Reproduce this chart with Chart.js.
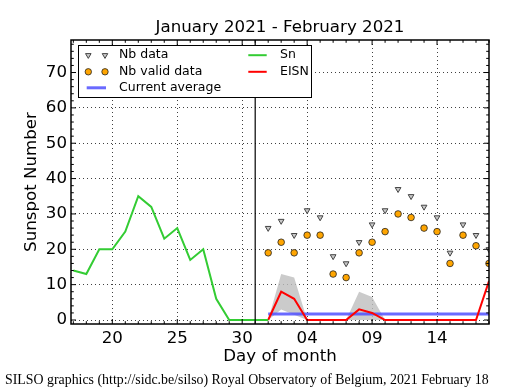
<!DOCTYPE html>
<html><head><meta charset="utf-8">
<script src="https://cdn.jsdelivr.net/npm/chart.js@4.4.0/dist/chart.umd.min.js"></script>
<style>html,body{margin:0;padding:0;background:#fff;}#wrap{width:515px;height:390px;position:relative;}</style>
</head><body><div id="wrap"><canvas id="c" width="515" height="390"></canvas></div>
<script>
// ---- data ----
const titleText = 'January 2021 - February 2021';
const footerText = 'SILSO graphics (http://sidc.be/silso) Royal Observatory of Belgium, 2021 February 18';
const xAxisTitle = 'Day of month';
const yAxisTitle = 'Sunspot Number';
const xTickValues = [20, 25, 30, 35, 40, 45];
const xTickLabels = ['20', '25', '30', '04', '09', '14'];
const yTickValues = [0, 10, 20, 30, 40, 50, 60, 70];
const snStartDay = 17;           // Jan 17
const snValues = [14, 13, 20, 20, 25, 35, 32, 23, 26, 17, 20, 6, 0, 0, 0, 0];
const febStartDay = 32;          // Feb 1
const nbData  = [26, 28, 24, 31, 29, 18, 16, 22, 27, 31, 37, 35, 32, 29, 19, 27, 24, 20];
const nbValid = [19, 22, 19, 24, 24, 13, 12, 19, 22, 25, 30, 29, 26, 25, 16, 24, 21, 16];
const eisn      = [0, 8, 6, 0, 0, 0, 0, 3, 2, 0, 0, 0, 0, 0, 0, 0, 0, 11];
const eisnUpper = [0, 13, 12, 0, 0, 0, 0, 8, 6.5, 0, 0, 0, 0, 0, 0, 0, 0, 11];
const eisnLower = [0, 3, 1.5, 0, 0, 0, 0, 0, 0, 0, 0, 0, 0, 0, 0, 0, 0, 11];
const currentAverage = 1.7;
const averageDays = [32, 49];
const monthBoundaryDay = 31;
const xMin = 16.82, xMax = 49.0, yMin = -1.13, yMax = 79.2;

const seq = (start, arr) => arr.map((v, i) => ({x: start + i, y: v}));
const FONT = '"DejaVu Sans", sans-serif';

const decor = {
  id: 'decor',
  afterDraw(chart) {
    const {ctx, chartArea: a, scales: {x, y}} = chart;
    ctx.save();
    // month boundary
    ctx.strokeStyle = '#000'; ctx.lineWidth = 1.2;
    const bx = x.getPixelForValue(monthBoundaryDay);
    ctx.beginPath(); ctx.moveTo(bx, a.top); ctx.lineTo(bx, a.bottom); ctx.stroke();
    // ticks inward on 4 sides
    ctx.lineWidth = 1;
    ctx.beginPath();
    for (let d = Math.ceil(xMin); d <= xMax; d++) {
      const px = x.getPixelForValue(d);
      const len = xTickValues.includes(d) ? 5 : 2.8;
      ctx.moveTo(px, a.bottom); ctx.lineTo(px, a.bottom - len);
      ctx.moveTo(px, a.top); ctx.lineTo(px, a.top + len);
    }
    for (let v = 0; v <= yMax; v += 2) {
      const py = y.getPixelForValue(v);
      const len = yTickValues.includes(v) ? 5 : 2.8;
      ctx.moveTo(a.left, py); ctx.lineTo(a.left + len, py);
      ctx.moveTo(a.right, py); ctx.lineTo(a.right - len, py);
    }
    ctx.stroke();
    // frame
    ctx.lineWidth = 1.5;
    ctx.strokeRect(a.left, a.top, a.right - a.left, a.bottom - a.top);

    // legend
    const ds = chart.data.datasets;
    const lx = 78.5, ly = 45.5, lw = 233, lh = 52;
    ctx.fillStyle = '#fff'; ctx.fillRect(lx, ly, lw, lh);
    ctx.strokeStyle = '#000'; ctx.lineWidth = 1; ctx.strokeRect(lx, ly, lw, lh);
    const rows = [55.2, 71.8, 87.8];
    ctx.font = '12.5px ' + FONT; ctx.fillStyle = '#000';
    ctx.textBaseline = 'middle'; ctx.textAlign = 'left';
    const tri = (cx, cy, r) => {
      ctx.beginPath();
      ctx.moveTo(cx, cy + r);
      ctx.lineTo(cx - r * 0.866, cy - r * 0.5);
      ctx.lineTo(cx + r * 0.866, cy - r * 0.5);
      ctx.closePath();
      ctx.fillStyle = ds[0].backgroundColor; ctx.fill();
      ctx.strokeStyle = ds[0].borderColor; ctx.lineWidth = 1; ctx.stroke();
    };
    const circ = (cx, cy, r) => {
      ctx.beginPath(); ctx.arc(cx, cy, r, 0, Math.PI * 2);
      ctx.fillStyle = ds[1].backgroundColor; ctx.fill();
      ctx.strokeStyle = ds[1].borderColor; ctx.lineWidth = 0.8; ctx.stroke();
    };
    tri(88.3, rows[0], 3.2); tri(105, rows[0], 3.2);
    circ(88.3, rows[1], 3.2); circ(105, rows[1], 3.2);
    const seg = (x1, x2, yy, d) => {
      ctx.beginPath(); ctx.moveTo(x1, yy); ctx.lineTo(x2, yy);
      ctx.strokeStyle = d.borderColor; ctx.lineWidth = d.borderWidth; ctx.stroke();
    };
    seg(86.7, 106, rows[2], ds[4]);
    seg(248.3, 266.7, rows[0], ds[2]);
    seg(248.3, 266.7, rows[1], ds[3]);
    ctx.fillStyle = '#000';
    ctx.fillText(ds[0].label, 119, rows[0]);
    ctx.fillText(ds[1].label, 119, rows[1]);
    ctx.fillText(ds[4].label, 119, rows[2]);
    ctx.fillText(ds[2].label, 280, rows[0]);
    ctx.fillText(ds[3].label, 280, rows[1]);

    // title
    ctx.font = '16.67px ' + FONT; ctx.textAlign = 'center'; ctx.textBaseline = 'alphabetic';
    ctx.fillText(titleText, (a.left + a.right) / 2, 32);
    // footer
    ctx.textAlign = 'left';
    ctx.font = '13px "Liberation Serif", serif';
    const w = ctx.measureText(footerText).width;
    const fs = 13 * 484 / w;
    ctx.font = fs.toFixed(2) + 'px "Liberation Serif", serif';
    ctx.fillText(footerText, 5, 384);
    ctx.restore();
  }
};

Chart.defaults.color = '#000';
new Chart(document.getElementById('c'), {
  type: 'scatter',
  data: {
    datasets: [
      {label: 'Nb data', data: seq(febStartDay, nbData), showLine: false,
       pointStyle: 'triangle', rotation: 180, pointRadius: 3.3, pointHoverRadius: 3.3,
       backgroundColor: '#c8c8c8', borderColor: '#444', borderWidth: 1, order: 1},
      {label: 'Nb valid data', data: seq(febStartDay, nbValid), showLine: false,
       pointStyle: 'circle', pointRadius: 3.3, pointHoverRadius: 3.3,
       backgroundColor: '#ffa500', borderColor: '#222', borderWidth: 0.8, order: 2},
      {label: 'Sn', data: seq(snStartDay, snValues), showLine: true, pointRadius: 0,
       borderColor: '#33cc33', borderWidth: 2, tension: 0, fill: false, order: 3},
      {label: 'EISN', data: seq(febStartDay, eisn), showLine: true, pointRadius: 0,
       borderColor: '#ff0000', borderWidth: 2, tension: 0, fill: false, order: 4},
      {label: 'Current average', data: averageDays.map(d => ({x: d, y: currentAverage})),
       showLine: true, pointRadius: 0, borderColor: 'rgba(80,80,255,0.85)', borderWidth: 3,
       fill: false, order: 5},
      {label: 'EISN upper', data: seq(febStartDay, eisnUpper), showLine: true, pointRadius: 0,
       borderColor: 'rgba(0,0,0,0)', borderWidth: 1, tension: 0,
       fill: '+1', backgroundColor: 'rgba(190,190,190,0.8)', order: 6},
      {label: 'EISN lower', data: seq(febStartDay, eisnLower), showLine: true, pointRadius: 0,
       borderColor: 'rgba(0,0,0,0)', borderWidth: 1, tension: 0, fill: false, order: 7}
    ]
  },
  options: {
    responsive: false, animation: false, devicePixelRatio: 1,
    layout: {padding: {top: 40, right: 26, left: 0, bottom: 0}},
    plugins: {legend: {display: false}, title: {display: false}, tooltip: {enabled: false}},
    scales: {
      x: {
        type: 'linear', min: xMin, max: xMax,
        afterFit: s => { s.height = 66; },
        afterBuildTicks: s => { s.ticks = xTickValues.map(v => ({value: v})); },
        ticks: {autoSkip: false, maxRotation: 0, padding: 5, font: {family: FONT, size: 16.67},
          callback: v => { const i = xTickValues.indexOf(v); return i >= 0 ? xTickLabels[i] : ''; }},
        grid: {color: 'rgba(0,0,0,0.75)', lineWidth: 1, drawTicks: false},
        border: {display: false, dash: [1, 3]},
        title: {display: true, text: xAxisTitle, font: {family: FONT, size: 16.67}, padding: {top: 0, bottom: 23}}
      },
      y: {
        type: 'linear', min: yMin, max: yMax,
        afterFit: s => { s.width = 71; },
        afterBuildTicks: s => { s.ticks = yTickValues.map(v => ({value: v})); },
        ticks: {padding: 4, font: {family: FONT, size: 16.67}},
        grid: {color: 'rgba(0,0,0,0.75)', lineWidth: 1, drawTicks: false},
        border: {display: false, dash: [1, 3]},
        title: {display: true, text: yAxisTitle, font: {family: FONT, size: 16.67}, padding: {top: 22, bottom: 0}}
      }
    }
  },
  plugins: [decor]
});
</script></body></html>
